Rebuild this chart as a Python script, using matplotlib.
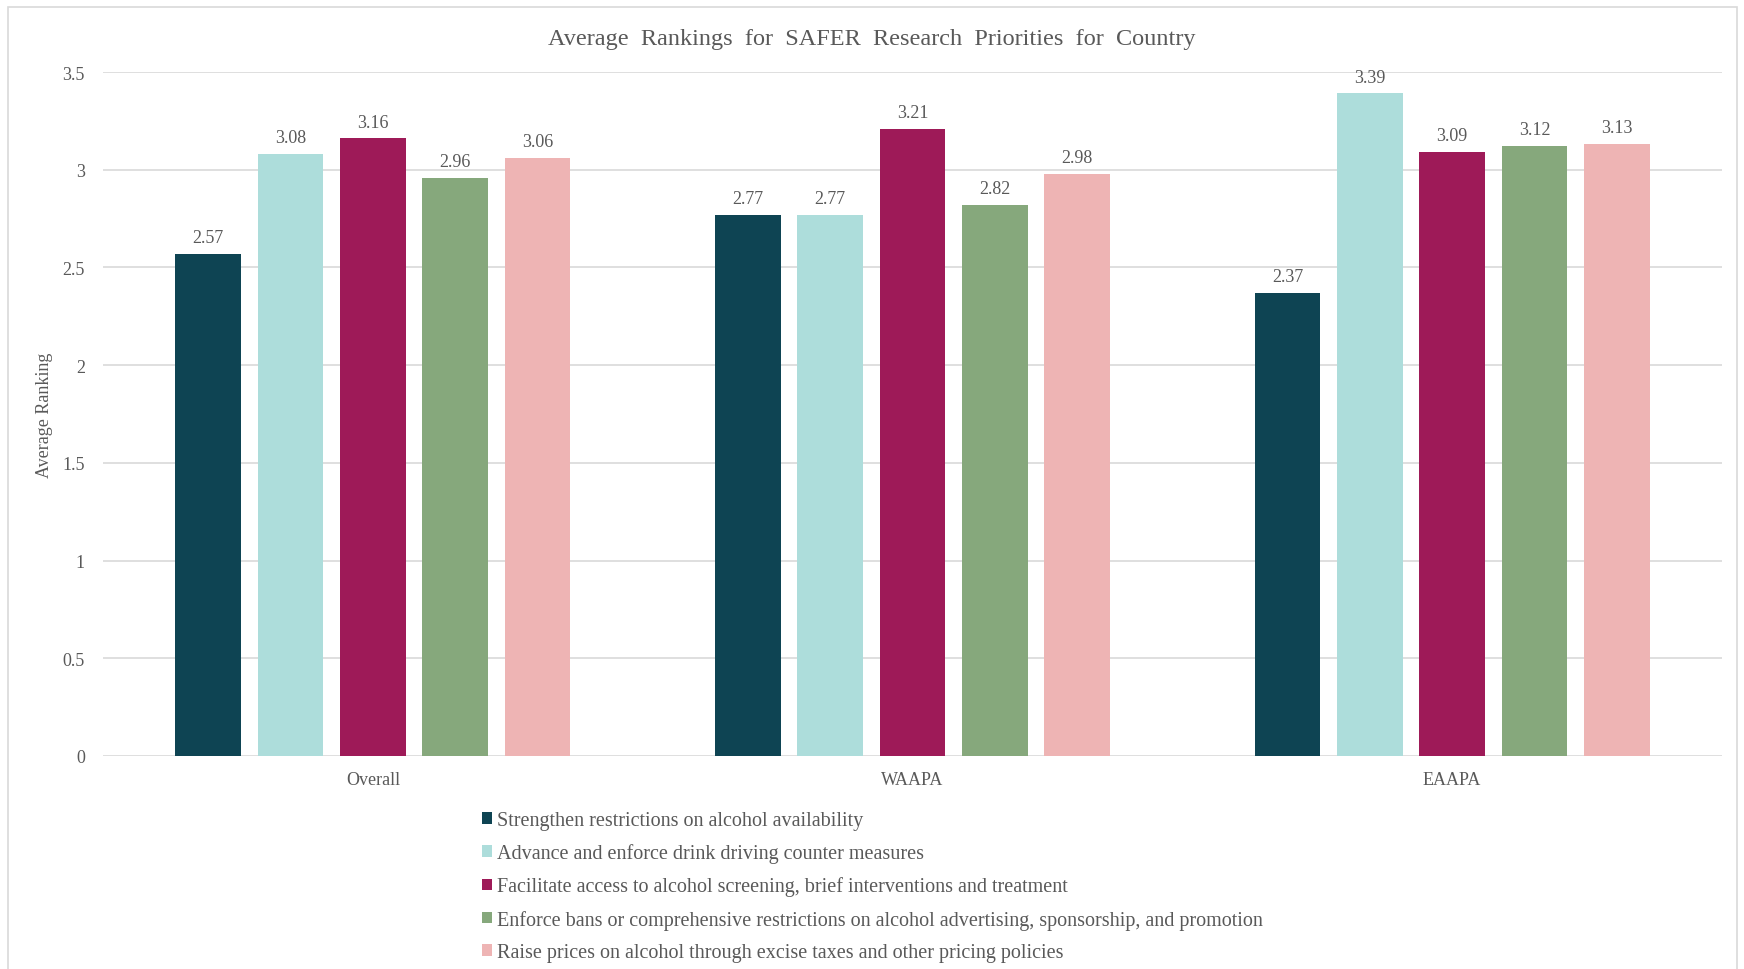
import matplotlib
matplotlib.use("Agg")
import matplotlib.pyplot as plt
import numpy as np
from matplotlib.patches import Rectangle

# Data
regions = ["Overall", "WAAPA", "EAAPA"]
priorities = [
    "Strengthen restrictions on alcohol availability",
    "Advance and enforce drink driving counter measures",
    "Facilitate access to alcohol screening, brief interventions and treatment",
    "Enforce bans or comprehensive restrictions on alcohol advertising, sponsorship, and promotion",
    "Raise prices on alcohol through excise taxes and other pricing policies",
]
restrict_availability = [2.57, 2.77, 2.37]
drink_driving = [3.08, 2.77, 3.39]
screening_access = [3.16, 3.21, 3.09]
advertising_bans = [2.96, 2.82, 3.12]
raise_prices = [3.06, 2.98, 3.13]
yticks = [0, 0.5, 1, 1.5, 2, 2.5, 3, 3.5]

series = [restrict_availability, drink_driving, screening_access,
          advertising_bans, raise_prices]
colors = ["#0E4453", "#ADDDDB", "#9E1A58", "#86A87C", "#EEB4B4"]
text_color = "#595959"

plt.rcParams["font.family"] = ["Liberation Serif", "DejaVu Serif"]

W, H = 1744, 970
fig = plt.figure(figsize=(W / 100, H / 100), dpi=100)
ax = fig.add_axes([103 / W, 1 - 757 / H, (1722 - 103) / W, (757 - 73) / H])

# outer chart frame
fig.patches.append(Rectangle((8 / W, -0.05), (1737 - 8) / W, 1.05 - 8 / H,
                             transform=fig.transFigure, fill=False,
                             edgecolor="#D9D9D9", linewidth=1.2))

x = np.arange(len(regions))
width = 0.122
step = 0.1526
for i, (vals, col) in enumerate(zip(series, colors)):
    pos = x + (i - 2) * step
    bars = ax.bar(pos, vals, width=width, color=col, label=priorities[i], zorder=3)
    for b, v in zip(bars, vals):
        ax.text(b.get_x() + b.get_width() / 2, v + 0.04, f"{v:.2f}",
                ha="center", va="bottom", fontsize=13, color=text_color)

ax.set_xlim(-0.5, 2.5)
ax.set_ylim(0, 3.5)
ax.set_yticks(yticks)
ax.set_yticklabels([f"{t:g}" for t in yticks])
ax.set_xticks(x)
ax.set_xticklabels(regions)
ax.tick_params(axis="both", length=0, labelsize=13, labelcolor=text_color)
ax.tick_params(axis="y", pad=13)
ax.tick_params(axis="x", pad=11)
ax.grid(axis="y", color="#D9D9D9", linewidth=1.2, zorder=0)
for s in ax.spines.values():
    s.set_visible(False)

ax.set_ylabel("Average Ranking", fontsize=13, color=text_color, labelpad=7)
fig.text(0.5, 1 - 39 / H,
         "Average  Rankings  for  SAFER  Research  Priorities  for  Country",
         ha="center", va="center", fontsize=17.5, color=text_color)

leg = fig.legend(loc="upper left", bbox_to_anchor=(472 / W, 1 - 802 / H),
                 frameon=False, fontsize=14.5, handlelength=0.5, handleheight=0.5,
                 handletextpad=0.25, labelspacing=0.66, borderpad=0,
                 labelcolor=text_color)

fig.savefig("out.png", dpi=100)
